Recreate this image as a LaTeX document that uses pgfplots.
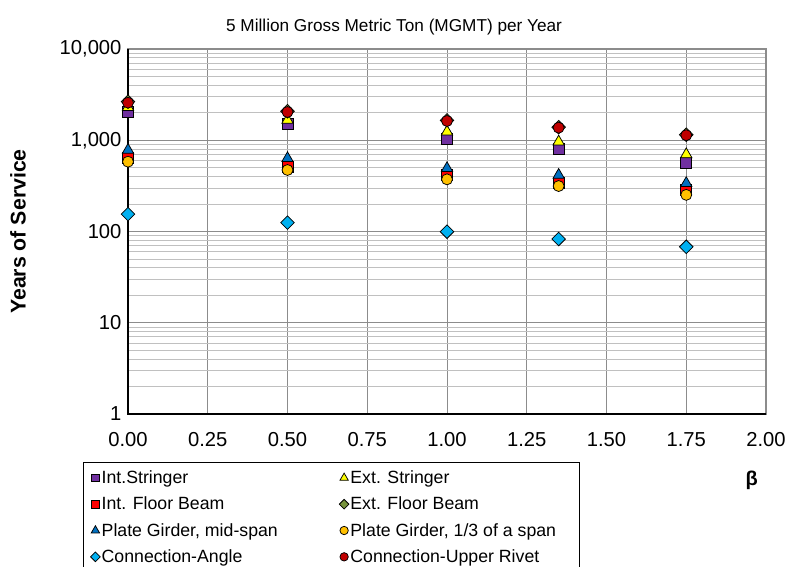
\documentclass[border=0pt]{standalone}
\usepackage{fontspec}
\setmainfont{Liberation Sans}
\usepackage{pgfplots}
\pgfplotsset{compat=1.18}
\definecolor{cPurple}{HTML}{7030A0}
\definecolor{cYellow}{HTML}{FFFF00}
\definecolor{cRed}{HTML}{FF0000}
\definecolor{cOlive}{HTML}{77933C}
\definecolor{cBlue}{HTML}{0070C0}
\definecolor{cGold}{HTML}{FFC000}
\definecolor{cCyan}{HTML}{00B0F0}
\definecolor{cDark}{HTML}{C00000}
\definecolor{gMajor}{HTML}{8C8C8C}
\definecolor{gMinor}{HTML}{C0C0C0}
\pgfplotsset{
  mk/.style n args={3}{only marks, mark=#1, mark size=#2,
     mark options={solid, fill=#3, draw=black, line width=0.75pt}},
  mkd/.style n args={2}{only marks, mark=square*, mark size=#1,
     mark options={solid, rotate=45, fill=#2, draw=black, line width=0.75pt}},
}
\begin{document}
\begin{tikzpicture}
\useasboundingbox (0,0) rectangle (789pt,566pt);
\begin{axis}[
  at={(128pt,152pt)}, anchor=south west,
  scale only axis, width=638pt, height=365pt,
  xmin=0, xmax=2, ymode=log, ymin=1, ymax=10000,
  clip=false,
  xtick={0,0.25,0.5,0.75,1,1.25,1.5,1.75,2},
  xticklabels={0.00,0.25,0.50,0.75,1.00,1.25,1.50,1.75,2.00},
  ytick={1,10,100,1000,10000},
  yticklabels={1,10,100,{1,000},{10,000}},
  major tick length=0pt, minor tick length=0pt,
  tick label style={font=\fontsize{20.2}{23}\selectfont},
  xticklabel style={yshift=-15pt},
  yticklabel style={xshift=-3pt},
  xmajorgrids, ymajorgrids, yminorgrids,
  major grid style={draw=gMajor, line width=0.9pt},
  minor grid style={draw=gMinor, line width=0.8pt},
  axis line style={draw=gMajor, line width=1.2pt},
  title={5 Million Gross Metric Ton (MGMT) per Year},
  title style={at={(axis description cs:0.417,1.045)}, anchor=center,
     font=\fontsize{17.2}{21}\selectfont},
  ylabel={Years of Service},
  ylabel style={at={(axis description cs:-0.1724,0.5)}, anchor=center,
     font=\bfseries\fontsize{21.3}{25}\selectfont},
  xlabel={β},
  xlabel style={at={(axis description cs:0.9776,-0.181)}, anchor=center,
     font=\bfseries\fontsize{20}{24}\selectfont},
  legend columns=2,
  legend cell align=left,
  legend style={at={(axis description cs:-0.071,-0.1323)}, anchor=north west,
     draw=black, line width=0.8pt, inner xsep=7.5pt, inner ysep=6.5pt,
     font=\fontsize{17.7}{21}\selectfont,
     nodes={inner sep=1.5pt}, row sep=9pt,
     /tikz/column 2/.style={column sep=60pt}},
]
\draw[black, line width=1.2pt] (rel axis cs:0,1) -- (rel axis cs:0,0) -- (rel axis cs:1,0);

\addplot[mk={square*}{5.5pt}{cPurple}, forget plot] coordinates {(0,2055) (0.5,1507) (1,1032) (1.35,796) (1.75,559)};
\addplot[mk={triangle*}{6.5pt}{cYellow}, forget plot] coordinates {(0,2300) (0.5,1667) (1,1241) (1.35,964) (1.75,700)};
\addplot[mk={square*}{5.5pt}{cRed}, forget plot] coordinates {(0,634) (0.5,513) (1,416) (1.35,338) (1.75,285)};
\addplot[mkd={4.8pt}{cOlive}, forget plot] coordinates {(0,2650) (0.5,2080) (1,1650) (1.35,1390) (1.75,1150)};
\addplot[mk={triangle*}{6.5pt}{cBlue}, forget plot] coordinates {(0,782) (0.5,634) (1,493) (1.35,416) (1.75,338)};
\addplot[mk={*}{5.5pt}{cGold}, forget plot] coordinates {(0,582) (0.5,472) (1,373) (1.35,315) (1.75,252)};
\addplot[mkd={4.8pt}{cCyan}, forget plot] coordinates {(0,155) (0.5,125) (1,99.5) (1.35,82.7) (1.75,68)};
\addplot[mk={*}{5.5pt}{cDark}, forget plot] coordinates {(0,2580) (0.5,2040) (1,1626) (1.35,1373) (1.75,1135)};

\addlegendimage{mk={square*}{3.9pt}{cPurple}}
\addlegendentry{Int.Stringer}
\addlegendimage{mk={triangle*}{4.8pt}{cYellow}}
\addlegendentry{Ext. Stringer}
\addlegendimage{mk={square*}{3.9pt}{cRed}}
\addlegendentry{Int. Floor Beam}
\addlegendimage{mkd={3.4pt}{cOlive}}
\addlegendentry{Ext. Floor Beam}
\addlegendimage{mk={triangle*}{4.8pt}{cBlue}}
\addlegendentry{Plate Girder, mid-span}
\addlegendimage{mk={*}{4.2pt}{cGold}}
\addlegendentry{Plate Girder, 1/3 of a span\kern14pt}
\addlegendimage{mkd={3.4pt}{cCyan}}
\addlegendentry{Connection-Angle}
\addlegendimage{mk={*}{4.2pt}{cDark}}
\addlegendentry{Connection-Upper Rivet}
\end{axis}
\end{tikzpicture}
\end{document}
